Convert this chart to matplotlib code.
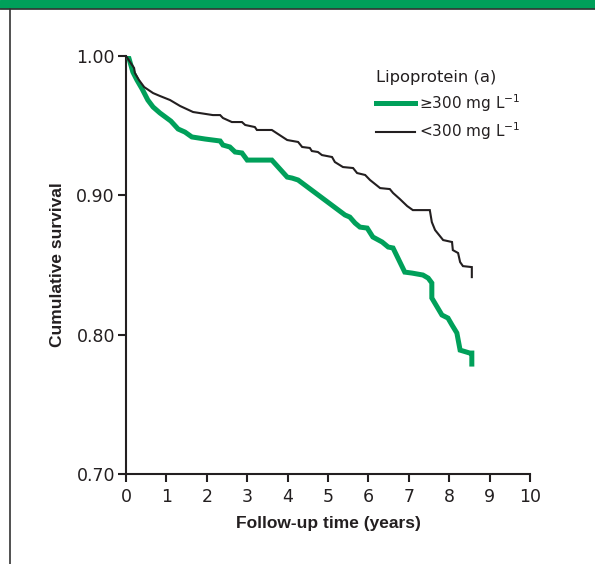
# -*- coding: utf-8 -*-

import matplotlib
matplotlib.use('Agg')
import matplotlib.pyplot as plt
from matplotlib.patches import Rectangle
from matplotlib.lines import Line2D

# survival curves (time in years, cumulative survival)
t_high = [0, 0.07, 0.17, 0.27, 0.40, 0.54, 0.67, 0.84, 1.11, 1.29, 1.46, 1.63,
          1.96, 2.33, 2.40, 2.57, 2.70, 2.87, 3.00, 3.61, 3.99, 4.11, 4.26, 5.42,
          5.54, 5.67, 5.79, 5.97, 6.11, 6.34, 6.49, 6.61, 6.90, 7.08, 7.35, 7.48,
          7.57, 7.57, 7.82, 7.97, 8.07, 8.19, 8.27, 8.51, 8.56, 8.56]
s_high = [1.000, 0.9986, 0.9885, 0.9828, 0.9763, 0.9684, 0.9634, 0.9591, 0.9533,
          0.9476, 0.9454, 0.9419, 0.9404, 0.9390, 0.9361, 0.9347, 0.9311, 0.9304,
          0.9253, 0.9253, 0.9131, 0.9124, 0.9110, 0.8859, 0.8844, 0.8801, 0.8772,
          0.8765, 0.8701, 0.8665, 0.8629, 0.8622, 0.8449, 0.8442, 0.8428, 0.8406,
          0.8371, 0.8263, 0.8141, 0.8119, 0.8069, 0.8012, 0.7889, 0.7868, 0.7868,
          0.7789]

t_low = [0, 0.20, 0.22, 0.32, 0.45, 0.67, 0.84, 1.09, 1.34, 1.66, 2.15, 2.33,
         2.40, 2.62, 2.87, 2.95, 3.19, 3.24, 3.61, 3.99, 4.26, 4.36, 4.55, 4.60,
         4.75, 4.85, 5.10, 5.17, 5.37, 5.62, 5.72, 5.92, 6.04, 6.29, 6.53, 6.61,
         6.78, 6.96, 7.10, 7.52, 7.57, 7.65, 7.85, 8.07, 8.09, 8.22, 8.27, 8.34,
         8.56, 8.56]
s_low = [1.000, 0.9914, 0.9878, 0.9828, 0.9777, 0.9734, 0.9713, 0.9684, 0.9641,
         0.9598, 0.9576, 0.9576, 0.9555, 0.9526, 0.9526, 0.9505, 0.9490, 0.9469,
         0.9469, 0.9397, 0.9383, 0.9347, 0.9340, 0.9318, 0.9311, 0.9289, 0.9275,
         0.9239, 0.9203, 0.9196, 0.9160, 0.9146, 0.9110, 0.9052, 0.9045, 0.9017,
         0.8973, 0.8923, 0.8894, 0.8894, 0.8808, 0.8751, 0.8679, 0.8665, 0.8607,
         0.8586, 0.8521, 0.8492, 0.8485, 0.8413]

x_ticks = list(range(0, 11))
y_ticks = [0.70, 0.80, 0.90, 1.00]
y_tick_labels = ['0.70', '0.80', '0.90', '1.00']

green = '#00a05a'
ink = '#231f20'
plt.rcParams['font.family'] = ['DejaVu Sans']

fig = plt.figure(figsize=(5.95, 5.64), dpi=100)

# frame: green band on top, thin rule under it and down the left side
fig.patches.append(Rectangle((0, 1 - 8 / 564), 1, 8 / 564, transform=fig.transFigure,
                             color=green, zorder=0))
fig.lines.append(Line2D([0, 1], [1 - 8.5 / 564, 1 - 8.5 / 564], transform=fig.transFigure,
                        color='#333333', lw=1.2))
fig.lines.append(Line2D([10 / 595, 10 / 595], [0, 1 - 8.5 / 564], transform=fig.transFigure,
                        color='#333333', lw=1.2))

ax = fig.add_axes([126 / 595, 1 - 474 / 564, (530 - 126) / 595, (474 - 56) / 564])
ax.plot(t_high, s_high, color=green, lw=3.6, solid_joinstyle='miter',
        label=r'≥300 mg L$^{\mathregular{-1}}$', zorder=3)
ax.plot(t_low, s_low, color=ink, lw=1.5, solid_joinstyle='miter',
        label=r'<300 mg L$^{\mathregular{-1}}$', zorder=4)

ax.set_xlim(0, 10)
ax.set_ylim(0.70, 1.00)
ax.set_xticks(x_ticks)
ax.set_yticks(y_ticks)
ax.set_yticklabels(y_tick_labels)
for side in ['top', 'right']:
    ax.spines[side].set_visible(False)
for side in ['left', 'bottom']:
    ax.spines[side].set_linewidth(1.5)
    ax.spines[side].set_color(ink)
ax.tick_params(direction='out', length=6, width=1.5, color=ink,
               labelsize=12.5, labelcolor=ink)
ax.tick_params(axis='x', pad=4)
ax.tick_params(axis='y', pad=2)

lab_font = dict(family=['Liberation Sans', 'DejaVu Sans'], fontsize=12.5,
                fontweight='bold', color=ink)
ax.set_xlabel('Follow-up time (years)', labelpad=7, **lab_font)
ax.set_ylabel('Cumulative survival', labelpad=8, **lab_font)

leg = ax.legend(title='Lipoprotein (a)', loc='upper left', bbox_to_anchor=(0.62, 0.966),
                frameon=False, fontsize=11, title_fontsize=11.8, alignment='left',
                handlelength=2.5, handletextpad=0.3, labelspacing=0.45,
                borderaxespad=0, borderpad=0)
for txt in leg.get_texts():
    txt.set_color(ink)
leg.get_title().set_color(ink)

fig.savefig('out.png', dpi=100)
